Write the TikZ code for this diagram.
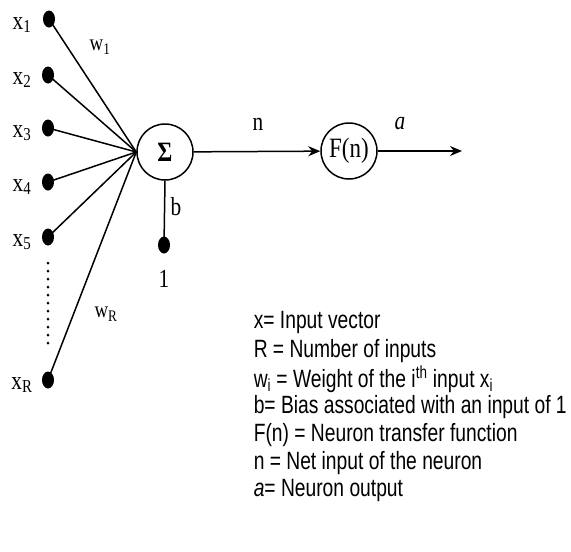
\documentclass[tikz,border=0pt]{standalone}
\usepackage{fontspec}
\setmainfont{Liberation Serif}
\newfontfamily\lblfont[FakeStretch=0.82]{Liberation Serif}
\newfontfamily\legfont[FakeStretch=0.77]{Liberation Sans}
\usetikzlibrary{arrows.meta,shapes.geometric}
\begin{document}
\begin{tikzpicture}[x=1pt,y=-1pt,line width=1.5pt,
  dot/.style={ellipse,fill=black,inner sep=0pt,minimum width=12pt,minimum height=17pt},
  lbl/.style={inner sep=0pt,font=\lblfont\fontsize{26}{28}\selectfont},
  wlbl/.style={inner sep=0pt,font=\lblfont\fontsize{23}{25}\selectfont},
  neuron/.style={circle,draw,line width=1.5pt,inner sep=0pt,minimum size=56pt,font=\lblfont\fontsize{28}{30}\selectfont},
  arr/.style={-{Stealth[length=12pt,width=10pt]}},
  leg/.style={anchor=west,inner sep=0pt,font=\legfont\fontsize{25}{27}\selectfont}]
\useasboundingbox (0,0) rectangle (571,552);
% input dots
\node[dot] (x1) at (49,19) {};
\node[dot] (x2) at (48,75) {};
\node[dot] (x3) at (48,128) {};
\node[dot] (x4) at (48,182) {};
\node[dot] (x5) at (48,237) {};
\node[dot] (xR) at (48,380) {};
\coordinate (d1) at (48,263);
\coordinate (d2) at (48,346);
% labels
\node[lbl] (l1) at (22,25) {x\textsubscript{1}};
\node[lbl] (l2) at (22,80) {x\textsubscript{2}};
\node[lbl] (l3) at (22,133) {x\textsubscript{3}};
\node[lbl] (l4) at (22,187) {x\textsubscript{4}};
\node[lbl] (l5) at (22,242) {x\textsubscript{5}};
\node[lbl] (lR) at (22,385) {x\textsubscript{R}};
% neurons
\node[neuron] (sum) at (165,152) {\textbf{Σ}};
\node[neuron] (fn) at (349,151) {F(n)};
\coordinate (out) at (462,151);
\node[dot] (bias) at (164,245) {};
% connectors
\foreach \i in {x1,x2,x3,x4,x5,xR} \draw (\i.center) -- (sum.west);
\draw[line width=3pt,line cap=round,dash pattern=on 0pt off 8pt] (d1) -- (d2);
\draw[arr] (sum) -- (fn);
\draw[arr] (fn) -- (out);
\draw (sum.south) -- (bias.center);
% connector labels
\node[wlbl] (w1) at (100,47) {w\textsubscript{1}};
\node[wlbl] (wR) at (106,314) {w\textsubscript{R}};
\node[lbl] (bl) at (176,207) {b};
\node[lbl] (one) at (164,279) {1};
\node[lbl] (nl) at (258,124) {n};
\node[lbl] (al) at (400,124) {\textit{a}};
% legend
\node[leg] (g1) at (253,322) {x= Input vector};
\node[leg] (g2) at (253,351) {R = Number of inputs};
\node[leg] (g3) at (253,379) {w\textsubscript{i} = Weight of the i\textsuperscript{th} input x\textsubscript{i}};
\node[leg] (g4) at (253,407) {b= Bias associated with an input of 1};
\node[leg] (g5) at (253,435) {F(n) = Neuron transfer function};
\node[leg] (g6) at (253,463) {n = Net input of the neuron};
\node[leg] (g7) at (253,490) {\textit{a}= Neuron output};
\end{tikzpicture}
\end{document}
